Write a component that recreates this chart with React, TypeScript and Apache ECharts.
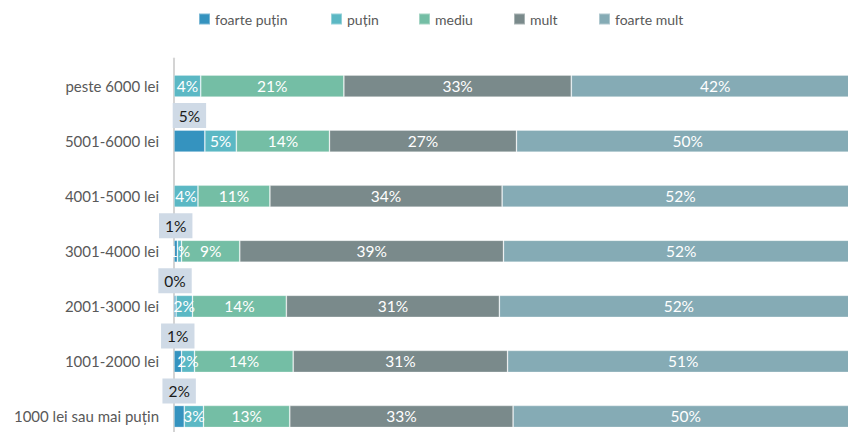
import React, { useEffect, useRef } from "react";
import * as echarts from "echarts";

const categories = [
  "peste 6000 lei",
  "5001-6000 lei",
  "4001-5000 lei",
  "3001-4000 lei",
  "2001-3000 lei",
  "1001-2000 lei",
  "1000 lei sau mai puțin",
];
const seriesNames = ["foarte puțin", "puțin", "mediu", "mult", "foarte mult"];
const foartePutin = [null, 4.5, null, 0.5, 0.3, 1.1, 1.5];
const putin = [3.9, 4.6, 3.5, 0.6, 2.4, 1.9, 2.8];
const mediu = [20.9, 13.6, 10.5, 8.5, 13.7, 14.4, 12.6];
const mult = [33.2, 27.3, 33.9, 38.5, 31.1, 31.3, 32.6];
const foarteMult = [42.0, 50.0, 52.1, 51.9, 52.4, 51.3, 50.4];

const colors = ["#3593bf", "#5bb8c4", "#74bea5", "#7a8a8b", "#85abb5"];
const legendLefts = [193, 325, 413, 508, 593];
const FONT = "Lato, 'Open Sans', sans-serif";

export default function App() {
  const ref = useRef<HTMLDivElement>(null);
  useEffect(() => {
    if (!ref.current) return;
    const chart = echarts.init(ref.current, undefined, { renderer: "svg" });
    const allData = [foartePutin, putin, mediu, mult, foarteMult];
    const fmt = (p: any) => `${Math.round(p.value)}%`;
    chart.setOption({
      animation: false,
      backgroundColor: "#ffffff",
      textStyle: { fontFamily: FONT },
      legend: seriesNames.map((n, i) => ({
        data: [n],
        left: legendLefts[i],
        top: 7,
        itemWidth: 11,
        itemHeight: 11,
        itemGap: 0,
        icon: "rect",
        selectedMode: false,
        textStyle: { color: "#595959", fontSize: 14, fontFamily: FONT },
      })),
      grid: { left: 174, right: 0, top: 58.5, bottom: 0, containLabel: false },
      xAxis: {
        type: "value",
        min: 0,
        max: 100,
        show: false,
        splitLine: { show: false },
      },
      yAxis: {
        type: "category",
        data: categories,
        inverse: true,
        axisLine: { show: true, lineStyle: { color: "#d4d4d4", width: 2 } },
        axisTick: { show: false },
        axisLabel: { color: "#595959", fontSize: 15, margin: 15, fontFamily: FONT },
      },
      series: seriesNames.map((n, i) => ({
        name: n,
        type: "bar",
        stack: "total",
        barWidth: 22,
        data: allData[i],
        itemStyle: {
          color: colors[i],
          borderColor: "rgba(255,255,255,0.35)",
          borderWidth: 0.8,
        },
        label:
          i === 0
            ? {
                show: true,
                position: "top",
                distance: 2,
                formatter: fmt,
                color: "#1a1a1a",
                fontSize: 15.5,
                lineHeight: 17,
                fontFamily: FONT,
                backgroundColor: "#cfdae6",
                padding: [4, 6, 4, 6],
              }
            : {
                show: true,
                position: "inside",
                formatter: fmt,
                color: "#ffffff",
                fontSize: 15.5,
                fontFamily: FONT,
              },
      })),
    });
    return () => chart.dispose();
  }, []);
  return (
    <div style={{ position: "fixed", left: 0, top: 0, width: 848, height: 432, overflow: "hidden" }}>
      <div ref={ref} style={{ width: 859, height: 443.5 }} />
    </div>
  );
}
